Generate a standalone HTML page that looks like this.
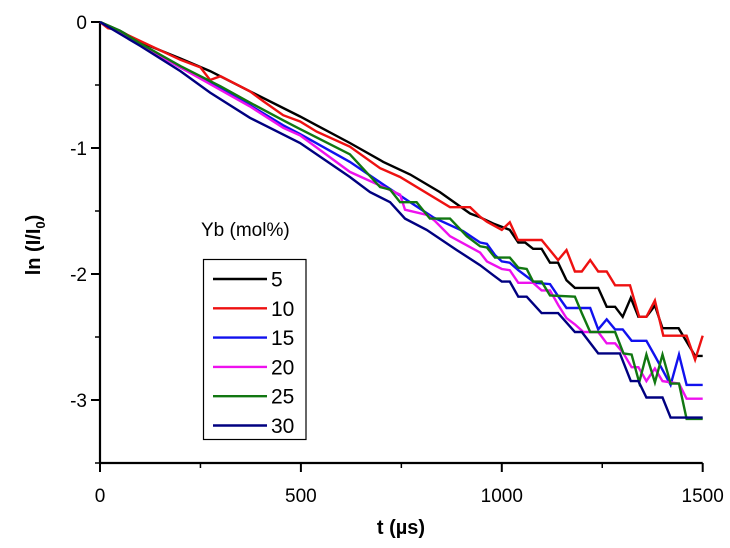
<!DOCTYPE html>
<html><head><meta charset="utf-8"><style>
html,body{margin:0;padding:0;background:#fff;}
svg{display:block;font-family:"Liberation Sans",Arial,sans-serif;}
</style></head><body>
<svg id="chart" width="730" height="548" viewBox="0 0 730 548" xmlns="http://www.w3.org/2000/svg">
<g id="axes"></g>
<g id="series"></g>
<g id="legend"></g>
</svg>
<script>
const xTicks=[0,500,1000,1500];
const xMinor=[250,750,1250];
const yTicks=[0,-1,-2,-3];
const yMinor=[-0.5,-1.5,-2.5,-3.5];
const seriesNames=["5","10","15","20","25","30"];
const seriesColors=["#000000","#ee1111","#1111ee","#ee11ee","#117711","#000080"];
const t5=[0,50,100,200,274,373,498,539,622,705,772,846,921,946,979,1020,1041,1058,1078,1099,1120,1140,1161,1182,1240,1261,1282,1301,1321,1340,1360,1381,1400,1440,1481,1500];
const v5=[0,-0.07,-0.16,-0.29,-0.39,-0.55,-0.75,-0.82,-0.96,-1.11,-1.21,-1.35,-1.52,-1.55,-1.60,-1.65,-1.75,-1.75,-1.80,-1.80,-1.91,-1.91,-2.05,-2.11,-2.11,-2.26,-2.26,-2.34,-2.19,-2.34,-2.34,-2.25,-2.43,-2.43,-2.65,-2.65];
const t10=[0,20,40,100,200,250,274,300,373,407,456,498,539,622,697,747,871,921,946,963,1000,1020,1040,1099,1140,1161,1182,1199,1220,1240,1261,1282,1319,1342,1360,1381,1402,1460,1481,1500];
const v10=[0,-0.05,-0.06,-0.15,-0.30,-0.36,-0.46,-0.43,-0.55,-0.63,-0.74,-0.79,-0.87,-0.99,-1.16,-1.23,-1.47,-1.47,-1.545,-1.585,-1.65,-1.59,-1.73,-1.73,-1.89,-1.81,-1.98,-1.98,-1.89,-1.98,-1.98,-2.09,-2.09,-2.34,-2.34,-2.21,-2.49,-2.49,-2.68,-2.49];
const t15=[0,100,200,300,373,456,498,622,705,772,829,904,946,963,983,1000,1020,1041,1062,1083,1120,1141,1161,1220,1240,1261,1282,1301,1323,1360,1381,1400,1420,1441,1460,1500];
const v15=[0,-0.18,-0.36,-0.53,-0.66,-0.82,-0.89,-1.11,-1.29,-1.43,-1.55,-1.66,-1.75,-1.76,-1.85,-1.90,-1.91,-1.97,-2.02,-2.07,-2.08,-2.18,-2.27,-2.27,-2.44,-2.36,-2.44,-2.44,-2.53,-2.53,-2.65,-2.76,-2.88,-2.64,-2.88,-2.88];
const t20=[0,100,200,300,373,456,498,622,747,759,813,834,871,946,963,1000,1020,1041,1078,1099,1120,1141,1161,1182,1203,1240,1261,1282,1303,1323,1340,1360,1381,1400,1441,1460,1500];
const v20=[0,-0.18,-0.36,-0.54,-0.67,-0.84,-0.90,-1.19,-1.37,-1.49,-1.53,-1.58,-1.70,-1.83,-1.90,-1.96,-1.97,-2.07,-2.07,-2.13,-2.13,-2.25,-2.35,-2.40,-2.46,-2.46,-2.55,-2.55,-2.63,-2.74,-2.74,-2.85,-2.75,-2.85,-2.87,-2.99,-2.99];
const t25=[0,50,100,200,300,373,456,498,622,697,722,747,788,821,871,913,946,963,983,1020,1041,1062,1078,1099,1120,1182,1199,1220,1282,1303,1323,1342,1360,1381,1400,1420,1441,1460,1500];
const v25=[0,-0.07,-0.17,-0.35,-0.51,-0.64,-0.78,-0.85,-1.05,-1.31,-1.33,-1.43,-1.43,-1.56,-1.56,-1.70,-1.78,-1.79,-1.87,-1.87,-1.95,-1.96,-2.06,-2.06,-2.17,-2.18,-2.31,-2.46,-2.46,-2.63,-2.64,-2.86,-2.64,-2.86,-2.64,-2.87,-2.87,-3.15,-3.15];
const t30=[0,100,200,274,373,498,622,672,722,759,813,888,946,979,1000,1020,1041,1062,1099,1140,1182,1199,1240,1294,1321,1340,1360,1400,1420,1500];
const v30=[0,-0.19,-0.39,-0.56,-0.76,-0.96,-1.23,-1.35,-1.43,-1.56,-1.65,-1.81,-1.93,-2.01,-2.06,-2.06,-2.18,-2.18,-2.31,-2.31,-2.46,-2.46,-2.63,-2.63,-2.85,-2.85,-2.98,-2.98,-3.14,-3.14];
const seriesT=[t5,t10,t15,t20,t25,t30];
const seriesV=[v5,v10,v15,v20,v25,v30];

const NS="http://www.w3.org/2000/svg";
const X0=100,X1=702.7,Y0=22,PPU=126;
function xs(t){return X0+(t/1500)*(X1-X0);}
function ys(v){return Y0-v*PPU;}
function mk(tag,parent,attrs){const e=document.createElementNS(NS,tag);for(const k in attrs)e.setAttribute(k,attrs[k]);parent.appendChild(e);return e;}
const axes=document.getElementById('axes');
let e;
e=mk('line',axes,{x1:X0,y1:Y0,x2:X0,y2:ys(-3.5),stroke:'#000','stroke-width':2.2});


e=mk('line',axes,{x1:X0,y1:ys(-3.5),x2:X1,y2:ys(-3.5),stroke:'#000','stroke-width':2.2});


xTicks.forEach(t=>{
  e=mk('line',axes,{x1:xs(t),y1:ys(-3.5),x2:xs(t),y2:ys(-3.5)+9,stroke:'#000','stroke-width':2});
  
  
  e=mk('text',axes,{x:xs(t),y:502,'text-anchor':'middle','font-size':19});
  e.textContent=t;
  
  
});
xMinor.forEach(t=>{
  e=mk('line',axes,{x1:xs(t),y1:ys(-3.5),x2:xs(t),y2:ys(-3.5)+5,stroke:'#000','stroke-width':1.5});
  
  
});
yTicks.forEach(v=>{
  e=mk('line',axes,{x1:X0-9,y1:ys(v),x2:X0,y2:ys(v),stroke:'#000','stroke-width':2});
  
  
  e=mk('text',axes,{x:X0-13,y:ys(v)+7,'text-anchor':'end','font-size':19});
  e.textContent=v;
  
  
});
yMinor.forEach(v=>{
  e=mk('line',axes,{x1:X0-5,y1:ys(v),x2:X0,y2:ys(v),stroke:'#000','stroke-width':1.5});
  
  
});
e=mk('text',axes,{x:401,y:534,'text-anchor':'middle','font-size':20,'font-weight':'bold'});
e.textContent='t (µs)';


e=mk('text',axes,{x:0,y:0,'text-anchor':'middle','font-size':20,'font-weight':'bold',transform:'translate(40,245) rotate(-90)'});
e.innerHTML='ln (I/I<tspan font-size="13" dy="5">0</tspan><tspan dy="-5">)</tspan>';



const sg=document.getElementById('series');
seriesT.forEach((ts,i)=>{
  const pts=ts.map((t,j)=>xs(t).toFixed(1)+','+ys(seriesV[i][j]).toFixed(1)).join(' ');
  e=mk('polyline',sg,{points:pts,fill:'none',stroke:seriesColors[i],'stroke-width':2.4,'stroke-linejoin':'miter'});
  
  
});

const lg=document.getElementById('legend');
e=mk('text',lg,{x:201,y:236,'font-size':19});
e.textContent='Yb (mol%)';


e=mk('rect',lg,{x:203.5,y:259.5,width:102.5,height:180,fill:'#fff',stroke:'#000','stroke-width':1.2});


seriesNames.forEach((n,i)=>{
  const y=279+i*29.3;
  e=mk('line',lg,{x1:213,y1:y,x2:267,y2:y,stroke:seriesColors[i],'stroke-width':2.4});
  
  
  e=mk('text',lg,{x:271,y:y+7.5,'font-size':21});
  e.textContent=n;
  
  
});
</script>
</body></html>
